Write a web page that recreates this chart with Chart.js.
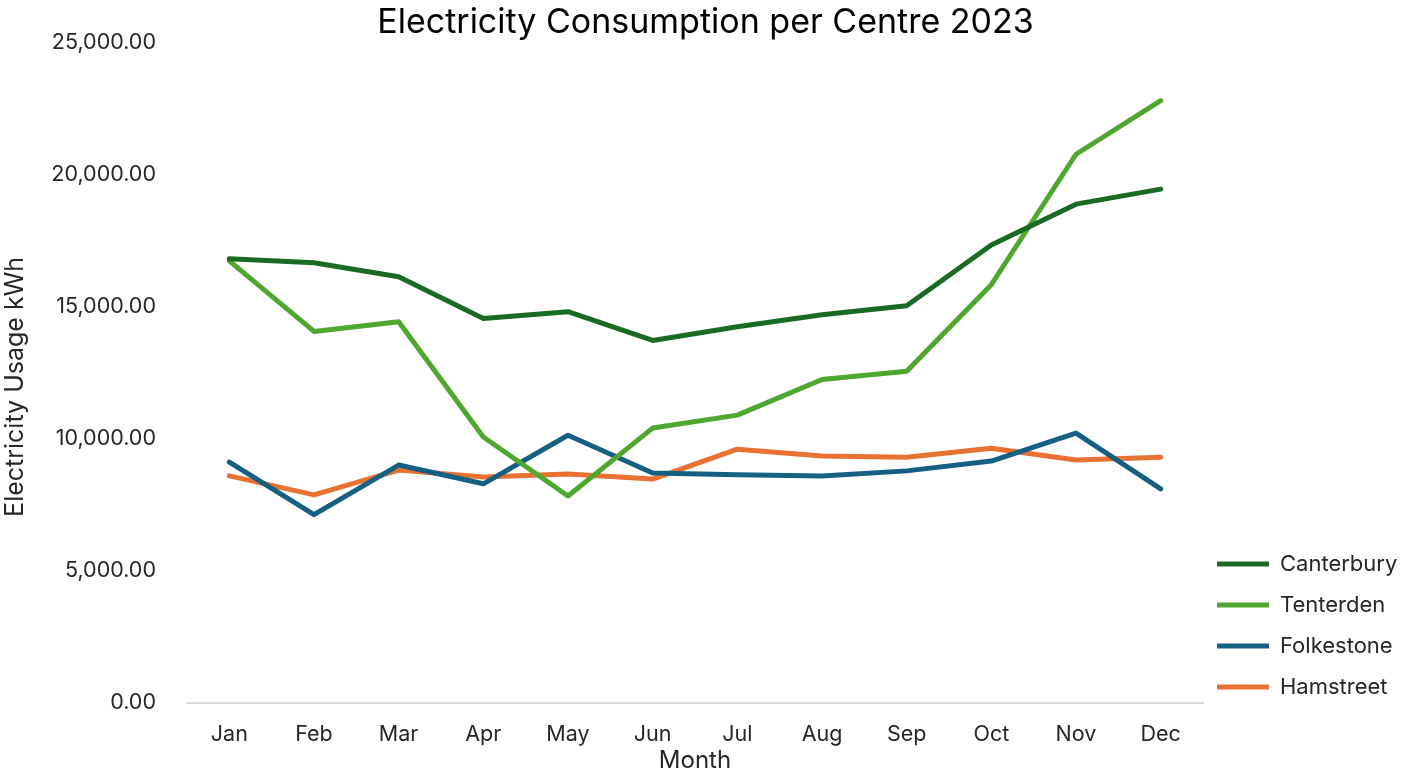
<!DOCTYPE html>
<html><head><meta charset="utf-8">
<script src="https://cdn.jsdelivr.net/npm/chart.js@4/dist/chart.umd.min.js"></script>
<style>html,body{margin:0;padding:0;background:#fff}#wrap{width:1411px;height:775px;position:relative}</style>
</head><body><div id="wrap"><canvas id="c"></canvas></div>
<script>
const months = ['Jan','Feb','Mar','Apr','May','Jun','Jul','Aug','Sep','Oct','Nov','Dec'];
const canterbury = [16820,16670,16140,14560,14820,13730,14250,14700,15040,17340,18890,19460];
const tenterden  = [16740,14070,14440,10070,7840,10410,10900,12250,12560,15840,20780,22810];
const folkestone = [9120,7130,9010,8300,10140,8710,8640,8600,8790,9160,10220,8110];
const hamstreet  = [8600,7880,8820,8560,8670,8480,9610,9350,9310,9650,9200,9310];
const seriesNames = ['Canterbury','Tenterden','Folkestone','Hamstreet'];
const seriesColors = ['#196B24','#4EA72E','#156082','#E97132'];
const yTicks = [0,5000,10000,15000,20000,25000];

const FONT = 'Inter, "Liberation Sans", sans-serif';
const TXT = '#262626';
const allSeries = [canterbury, tenterden, folkestone, hamstreet];

const tweaks = {
  id: 'tweaks',
  beforeLayout(chart) {
    const lg = chart.legend;
    if (lg && !lg._wrapped) {
      const origFit = lg.fit;
      lg.fit = function () { origFit.apply(this, arguments); this.width = 208; };
      lg._wrapped = true;
    }
  },
  afterLayout(chart) {
    const lg = chart.legend;
    if (lg) { lg.top += 14; lg.bottom += 14; lg.left -= 5; lg.right -= 5; }
    const y = chart.scales.y;
    if (y && !y._wrapped) {
      const origTitle = y.drawTitle;
      y.drawTitle = function () {
        const ctx = this.ctx;
        ctx.save();
        ctx.translate(0, 14);
        origTitle.apply(this, arguments);
        ctx.restore();
      };
      y._wrapped = true;
    }
  }
};

new Chart(document.getElementById('c'), {
  type: 'line',
  plugins: [tweaks],
  data: {
    labels: months,
    datasets: allSeries.map((d, i) => ({
      label: seriesNames[i],
      data: d,
      borderColor: seriesColors[i],
      backgroundColor: seriesColors[i],
      borderWidth: 5,
      borderCapStyle: 'round',
      borderJoinStyle: 'round',
      pointRadius: 0,
      pointHoverRadius: 0,
      tension: 0,
      fill: false
    }))
  },
  options: {
    responsive: true,
    maintainAspectRatio: false,
    animation: false,
    layout: { padding: { left: 0, right: 0, top: 0, bottom: 0 } },
    plugins: {
      title: {
        display: true,
        text: 'Electricity Consumption per Centre 2023',
        color: '#000',
        font: { family: FONT, size: 34, weight: 'normal' },
        padding: { top: 2, bottom: 0 }
      },
      legend: {
        display: true,
        position: 'right',
        align: 'end',
        fullSize: false,
        labels: {
          color: TXT,
          font: { family: FONT, size: 22 },
          usePointStyle: true,
          pointStyle: 'line',
          pointStyleWidth: 52,
          padding: 19
        }
      },
      tooltip: { enabled: false }
    },
    scales: {
      x: {
        offset: true,
        grid: { display: false, offset: true },
        border: { display: true, color: '#d9d9d9', width: 2 },
        ticks: { color: TXT, font: { family: FONT, size: 21.5 }, padding: 11 },
        title: { display: true, text: 'Month', color: TXT, font: { family: FONT, size: 24 }, padding: { top: 0, bottom: 0 } },
        afterFit: s => { s.height = 72; }
      },
      y: {
        min: 0,
        max: 25000,
        afterBuildTicks: s => { s.ticks = yTicks.map(v => ({ value: v })); },
        grid: { display: false },
        border: { display: false },
        ticks: {
          color: TXT,
          font: { family: FONT, size: 21.5 },
          padding: 23,
          callback: v => Number(v).toLocaleString('en-US', { minimumFractionDigits: 2, maximumFractionDigits: 2 })
        },
        title: { display: true, text: 'Electricity Usage kWh', color: TXT, font: { family: FONT, size: 25 }, padding: { top: 0, bottom: 0 } },
        afterFit: s => { s.width = 187; }
      }
    }
  }
});
</script></body></html>
